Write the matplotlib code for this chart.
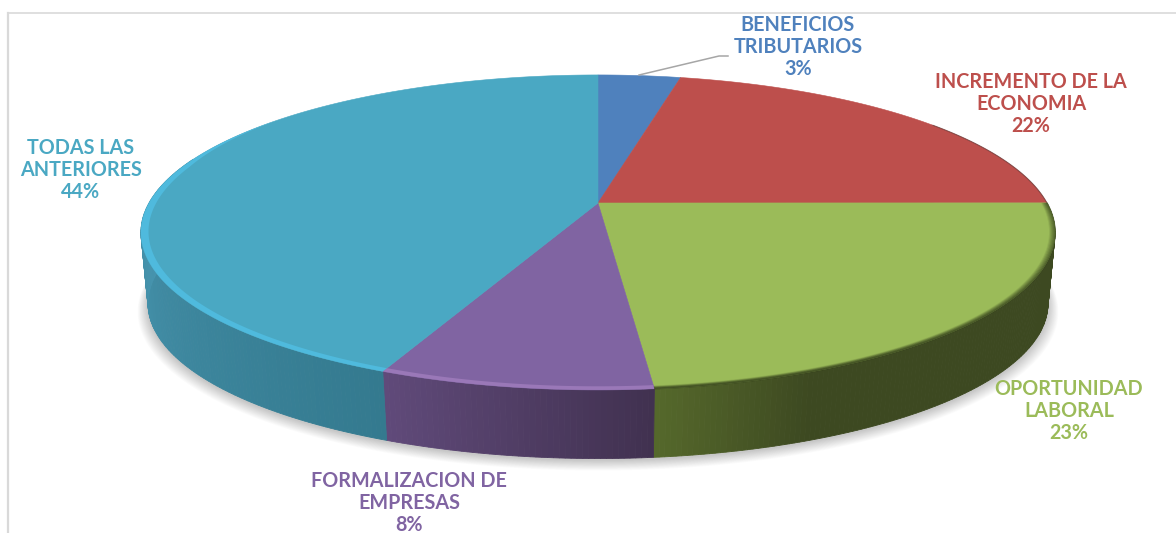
import numpy as np
import matplotlib
matplotlib.use('Agg')
import matplotlib.pyplot as plt
from matplotlib.colors import to_rgb

# values, the labels show them rounded
names = ['BENEFICIOS\nTRIBUTARIOS', 'INCREMENTO DE LA\nECONOMIA', 'OPORTUNIDAD\nLABORAL',
         'FORMALIZACION DE\nEMPRESAS', 'TODAS LAS\nANTERIORES']
values = [3.49, 21.5, 23.38, 8.13, 43.5]
colors = ['#4f81bd', '#bd4f4c', '#9bbb59', '#8064a2', '#4aa8c3']
wall_a = ['#3b618e', '#8e3b39', '#55682b', '#604a7a', '#347a8f']
wall_b = ['#3b618e', '#8e3b39', '#3d4921', '#413150', '#4896b0']
rim = [None, None, '#2f3a18', '#9a78b8', '#4fbadd']
label_xy = [(798, 47), (1031, 104), (1069, 411), (409, 503), (81, 170)]

cx, cy = 598, 203
R, S, k = 449, 152, 0.187
depth, shrink = 72, 0.985


def proj(theta, scale=1.0, dy=0.0):
    u = scale * np.sin(theta)
    v = scale * np.cos(theta)
    w = 1 + k * v
    return cx + R * u / w, cy - S * v / w + dy


def mix(c1, c2, t):
    a, b = np.array(to_rgb(c1)), np.array(to_rgb(c2))
    return tuple(a + (b - a) * t)


fig = plt.figure(figsize=(11.76, 5.33), dpi=100)
ax = fig.add_axes([0, 0, 1, 1])
ax.set_xlim(0, 1176)
ax.set_ylim(533, 0)
ax.axis('off')

# chart frame
ax.plot([8, 8], [533, 13], color='#d9d9d9', lw=1.6)
ax.plot([8, 1176], [13, 13], color='#d9d9d9', lw=1.2)

edges = 2 * np.pi * np.cumsum([0] + values) / 100

# soft shadow under the pie
full = np.linspace(0, 2 * np.pi, 400)
for i in range(14):
    sx, sy = proj(full, shrink + 0.022 - i * 0.0016, depth + 7 - i * 0.4)
    ax.fill(sx, sy, color='black', alpha=0.014, lw=0)

# side wall
for n in range(2, 5):
    th = np.linspace(edges[n], edges[n + 1], max(int(values[n] * 6), 4))
    for j in range(len(th) - 1):
        if np.cos((th[j] + th[j + 1]) / 2) > 0.3:
            continue
        x1, y1 = proj(th[j:j + 2])
        x2, y2 = proj(th[j:j + 2], shrink, depth)
        t = j / (len(th) - 2)
        if n == 2:
            c = mix(wall_a[n], wall_b[n], min(1, (1 - t) * 5))
        elif n == 3:
            c = mix(wall_b[n], wall_a[n], t)
        else:
            c = mix(wall_a[n], wall_b[n], min(1, t * 2.2))
        ax.fill(np.r_[x1, x2[::-1]], np.r_[y1, y2[::-1]], color=c, ec=c, lw=0.6)

# top face
for n in range(5):
    th = np.linspace(edges[n], edges[n + 1], 200)
    x, y = proj(th)
    ax.fill(np.r_[cx, x], np.r_[cy, y], color=colors[n], ec=colors[n], lw=0.4)

# bevel along the front of the rim
for n in range(2, 5):
    th = np.linspace(edges[n], edges[n + 1], 300)
    if n == 2:
        for i in range(6):
            x, y = proj(th, 1 - i * 0.0022)
            ax.plot(x, y, color=rim[n], alpha=0.55 - i * 0.09, lw=1.1, solid_capstyle='butt')
    else:
        taper = np.clip((0.6 - np.cos(th)) / 0.35, 0, 1)
        x1, y1 = proj(th)
        x2, y2 = proj(th, 1 - 0.016 * taper)
        ax.fill(np.r_[x1, x2[::-1]], np.r_[y1, y2[::-1]], color=rim[n], lw=0)

# thin dark edge on the far right of the red slice
th = np.linspace(edges[2] - 0.6, edges[2], 60)
x, y = proj(th)
ax.plot(x, y, color='#3a2a28', alpha=0.45, lw=0.8)

# labels
for n in range(5):
    txt = f'{names[n]}\n{round(values[n])}%'
    ax.text(label_xy[n][0], label_xy[n][1], txt, color=colors[n], ha='center', va='center',
            family='Lato', weight='bold', fontsize=14.2, linespacing=1.12)

ax.plot([639, 719, 728], [75, 56, 56], color='#a6a6a6', lw=1.1)

fig.savefig('out.png', dpi=100)
